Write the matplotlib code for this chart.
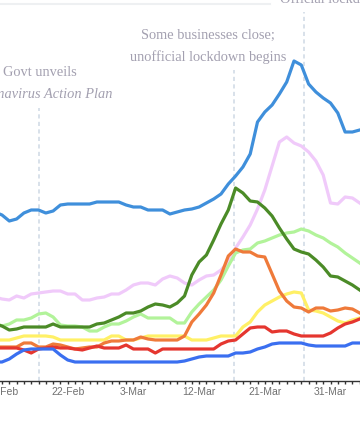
import numpy as np
import matplotlib.pyplot as plt
from matplotlib.lines import Line2D

# day index: -1 .. 49 (0 = 13-Feb)
days = np.arange(-1, 50)
tick_days = [0, 9, 18, 27, 36, 45]
tick_labels = ["13-Feb", "22-Feb", "3-Mar", "12-Mar", "21-Mar", "31-Mar"]

# series values (arbitrary index)
blue = [169, 166, 160, 162, 168, 171, 171, 168, 170, 176, 177, 177, 177, 177, 179, 179, 179,
        179, 176, 174, 174, 171, 171, 171, 167, 169, 171, 172, 174, 178, 182, 187, 197, 205,
        214, 227, 259, 269, 276, 287, 299, 320, 316, 297, 289, 283, 278, 268, 249, 249, 251]
pink = [84, 82, 81, 85, 83, 87, 88, 89, 90, 90, 87, 87, 81, 81, 83, 84, 87, 87, 91, 96, 98,
        98, 96, 102, 105, 103, 98, 96, 101, 105, 106, 111, 119, 133, 144, 156, 172, 191, 215,
        239, 244, 238, 235, 229, 220, 206, 178, 177, 184, 183, 178]
dgreen = [57, 55, 51, 52, 54, 54, 54, 54, 57, 54, 54, 54, 54, 54, 57, 58, 61, 64, 68, 68, 70,
          74, 77, 76, 74, 78, 85, 106, 119, 126, 141, 157, 171, 193, 188, 180, 179, 173, 165,
          153, 142, 132, 129, 127, 121, 114, 105, 104, 100, 96, 91]
lgreen = [58, 55, 57, 61, 61, 63, 67, 68, 64, 56, 55, 55, 54, 50, 50, 54, 57, 57, 60, 64, 67,
          63, 63, 63, 63, 58, 58, 69, 77, 84, 91, 101, 115, 128, 131, 132, 138, 140, 143, 146,
          148, 149, 152, 150, 146, 143, 138, 134, 128, 123, 118]
yellow = [41, 41, 41, 43, 45, 45, 45, 45, 44, 41, 41, 41, 41, 41, 41, 41, 45, 45, 41, 41, 43,
          45, 45, 45, 45, 45, 45, 41, 41, 41, 43, 45, 45, 45, 54, 59, 69, 76, 80, 84, 87, 89,
          88, 71, 70, 68, 64, 60, 58, 61, 63]
orange = [34, 34, 34, 34, 38, 38, 34, 34, 37, 36, 34, 32, 33, 34, 34, 38, 40, 40, 41, 41, 44,
          42, 41, 41, 41, 41, 45, 59, 67, 76, 88, 106, 125, 132, 129, 129, 125, 124, 107, 90,
          80, 74, 73, 69, 73, 73, 70, 71, 73, 72, 68]
red = [33, 33, 33, 33, 31, 28, 32, 33, 34, 33, 33, 32, 31, 33, 35, 33, 33, 33, 36, 32, 32, 32,
       28, 32, 32, 32, 32, 32, 32, 32, 32, 37, 40, 41, 47, 53, 54, 54, 49, 50, 50, 47, 45, 45,
       45, 45, 48, 53, 57, 59, 62]
bblue = [19, 19, 22, 27, 31, 32, 32, 32, 32, 26, 21, 19, 19, 19, 19, 19, 19, 19, 19, 19, 19,
         19, 19, 19, 19, 19, 20, 22, 24, 25, 25, 25, 25, 28, 28, 29, 32, 34, 37, 38, 38, 38,
         38, 36, 35, 35, 35, 35, 35, 38, 38]

# events: (x, top of marker line)
event_x = [5.11, 31.82, 41.41]
event_top = [273, 311, 369]

fig = plt.figure(figsize=(3.6, 4.22), dpi=100)
ax = fig.add_axes([0, 41 / 422, 1, 381 / 422])

series = [(pink, "#f0cafa"), (lgreen, "#b2f39a"), (dgreen, "#4b8b27"),
          (yellow, "#fff066"), (orange, "#ef7a3a"), (red, "#e5362f"),
          (blue, "#3f8fdb"), (bblue, "#3a6ff0")]
for vals, col in series:
    ax.plot(days, vals, color=col, lw=2.3, solid_joinstyle="round", zorder=3)

for x, top in zip(event_x, event_top):
    ax.plot([x, x], [0, top], color="#d2dce6", lw=1.2, ls=(0, (2.5, 2)), zorder=1)

ax.set_xlim(-0.274, 49.04)
ax.set_ylim(0, 381)
for s in ["top", "left", "right"]:
    ax.spines[s].set_visible(False)
ax.spines["bottom"].set_color("#333333")
ax.spines["bottom"].set_linewidth(1.0)
ax.set_yticks([])
ax.set_xticks(tick_days)
ax.set_xticklabels(tick_labels, fontsize=7.5, color="#707070", family="Liberation Sans")
ax.set_xticks(np.arange(0, 50), minor=True)
ax.tick_params(axis="x", which="both", direction="out", length=2.5, width=1.0,
               color="#333333", pad=1.5)

tc = "#a3a0b0"
ax.text(28.22, 346, "Some businesses close;", ha="center", va="center", fontsize=10.4,
        color=tc, family="Liberation Serif")
ax.text(28.22, 324, "unofficial lockdown begins", ha="center", va="center", fontsize=10.4,
        color=tc, family="Liberation Serif")
ax.text(5.2, 309, "Govt unveils", ha="center", va="center", fontsize=10.4,
        color=tc, family="Liberation Serif")
ax.text(15.07, 287, "Coronavirus Action Plan", ha="right", va="center", fontsize=10.4,
        color=tc, family="Liberation Serif", style="italic")
ax.text(38.08, 378, "Official lockdown", ha="left", va="baseline", fontsize=10.4,
        color=tc, family="Liberation Serif", clip_on=False)

fig.add_artist(Line2D([0, 270 / 360], [1 - 4 / 422, 1 - 4 / 422], color="#eef0f2", lw=1.5))

fig.savefig("out.png", dpi=100)
